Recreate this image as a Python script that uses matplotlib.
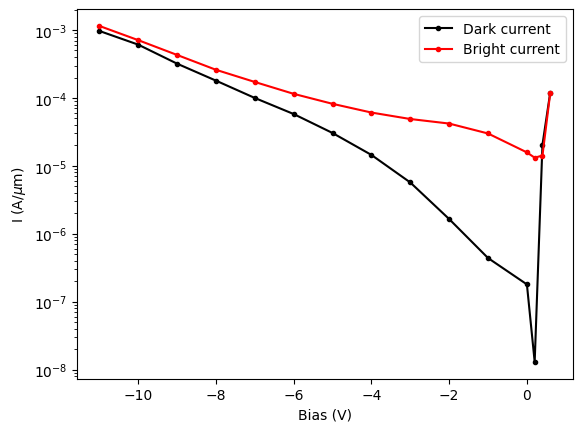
import matplotlib
matplotlib.use("Agg")
import matplotlib.pyplot as plt

bias = [-11, -10, -9, -8, -7, -6, -5, -4, -3, -2, -1, 0, 0.2, 0.4, 0.6]
dark = [9.7e-4, 6.1e-4, 3.2e-4, 1.8e-4, 1.0e-4, 5.8e-5, 3.05e-5, 1.45e-5,
        5.7e-6, 1.65e-6, 4.4e-7, 1.8e-7, 1.3e-8, 2.05e-5, 1.2e-4]
bright = [1.15e-3, 7.1e-4, 4.3e-4, 2.6e-4, 1.72e-4, 1.15e-4, 8.2e-5, 6.1e-5,
          4.9e-5, 4.2e-5, 3.0e-5, 1.58e-5, 1.32e-5, 1.42e-5, 1.18e-4]

fig, ax = plt.subplots(figsize=(6.4, 4.8), dpi=100)
ax.semilogy(bias, dark, 'k.-', label='Dark current')
ax.semilogy(bias, bright, 'r.-', label='Bright current')
ax.set_xlabel('Bias (V)')
ax.set_ylabel(r'I (A/$\mu$m)')
ax.legend()
fig.savefig('out.png', dpi=100, bbox_inches='tight')
